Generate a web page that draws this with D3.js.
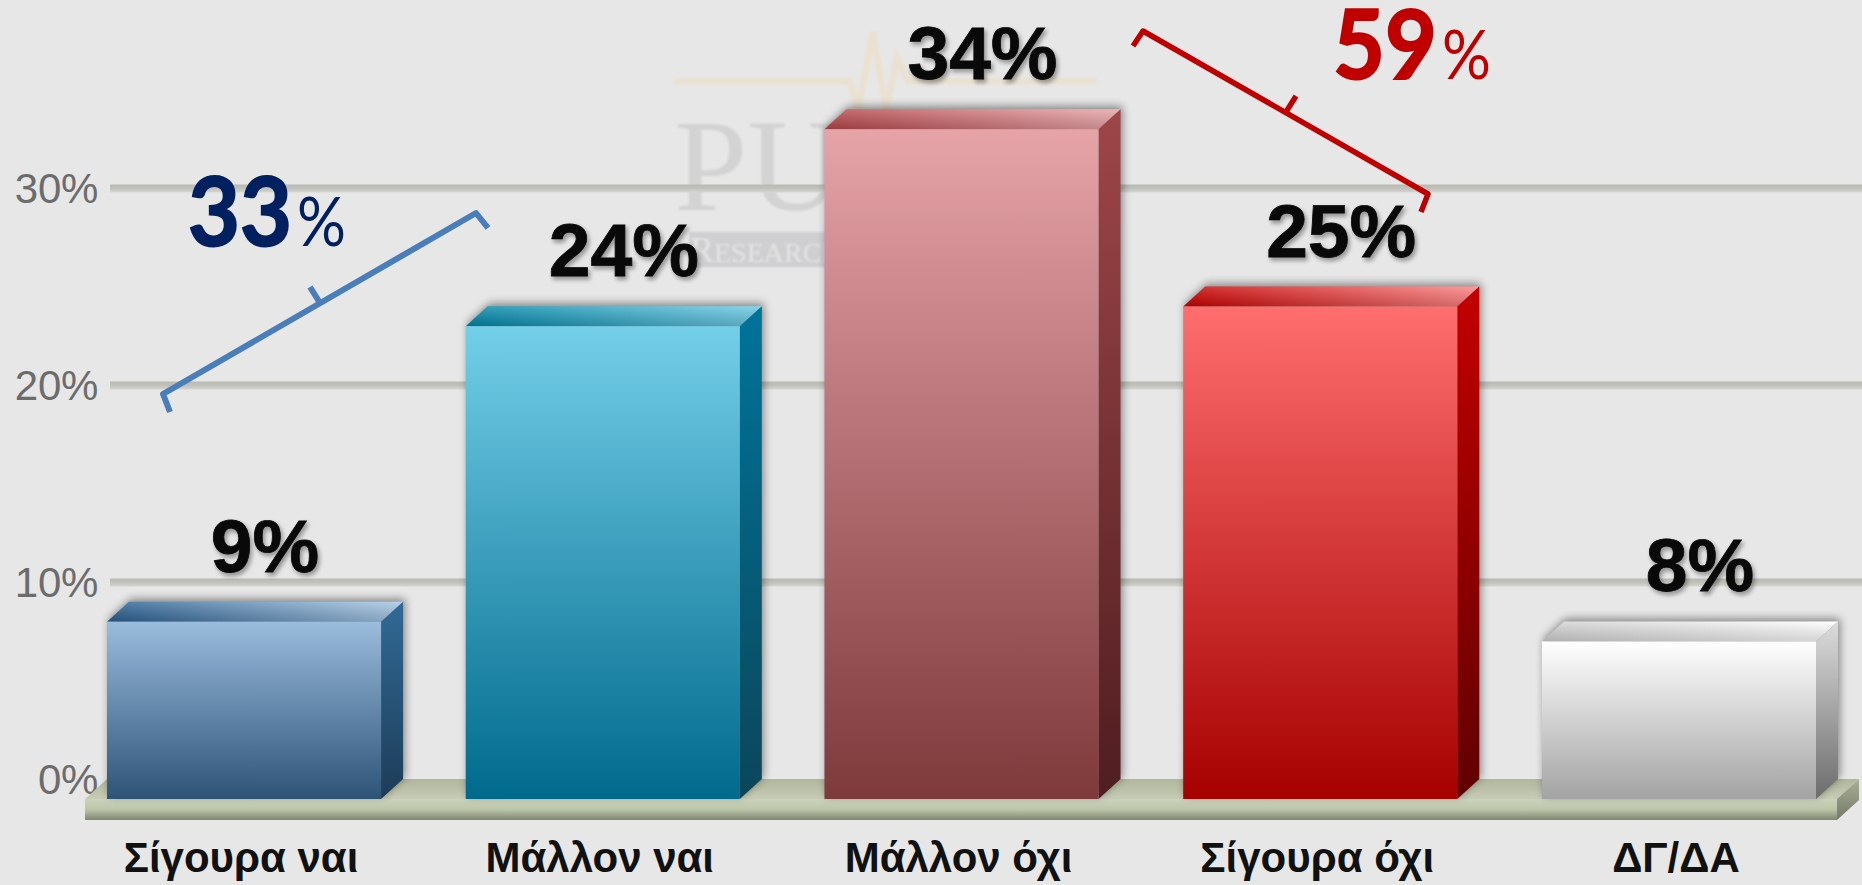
<!DOCTYPE html>
<html><head><meta charset="utf-8">
<script src="https://cdn.jsdelivr.net/npm/d3@7/dist/d3.min.js"></script>
<style>html,body{margin:0;padding:0;background:#e7e7e7;overflow:hidden}svg{display:block}</style>
</head><body><svg id="c" width="1862" height="885"></svg>
<script>
const categories = ["Σίγουρα ναι","Μάλλον ναι","Μάλλον όχι","Σίγουρα όχι","ΔΓ/ΔΑ"];
const values = [9,24,34,25,8];
const yTicks = [0,10,20,30];
const groupTotals = [33,59];

const frontColors = [["#9abcdd","#2d5377"],["#74cfe9","#006a8d"],["#e6a3a8","#7e393b"],["#ff6e6e","#a60000"],["#ffffff","#a3a3a3"]];
const sideColors  = [["#326a96","#1d3c58"],["#00749a","#0b4659"],["#9e4649","#4f1d20"],["#c40000","#600000"],["#dcdcdc","#6c6c6c"]];
const topColors   = [["#2a6091","#a9c8e6"],["#0087a9","#70cce6"],["#b8464b","#eaa7aa"],["#cc0000","#ff8585"],["#d2d2d2","#ffffff"]];

const W = 1862, H = 885;
const depthX = 22, depthY = 20;
const svg = d3.select("#c");
const defs = svg.append("defs");
const x = d3.scaleBand().domain(categories).range([107,1816]).paddingInner(0.236).paddingOuter(0);
const y = d3.scaleLinear().domain([0,30]).range([779,188]);
const fy = v => y(v) + depthY;
const bw = x.bandwidth();

function grad(id, cols, horizontal){
  const g = defs.append("linearGradient").attr("id",id)
    .attr("x1",0).attr("y1",0).attr("x2",horizontal?1:0).attr("y2",horizontal?0:1);
  cols.forEach((c,i)=>g.append("stop").attr("offset",i/(cols.length-1)).attr("stop-color",c));
}
categories.forEach((c,i)=>{
  grad("f"+i,frontColors[i],false); grad("s"+i,sideColors[i],false); grad("t"+i,topColors[i],true);
});
grad("floorFront",["#ccd3bd","#bcc4aa","#7f8672"],false);
grad("floorSide",["#a9b094","#75796a"],false);
grad("floorTop",["#b1b79c","#c6ccb6"],false);
grad("gridG",["#b9b9b2","#c2c2bc","#d6d6d1"],false);
grad("topShade",["rgba(255,255,255,.18)","rgba(0,0,0,.16)"],false);
defs.append("filter").attr("id","blur").attr("x","-10%").attr("y","-10%").attr("width","120%").attr("height","120%")
  .append("feGaussianBlur").attr("stdDeviation",4);
defs.append("filter").attr("id","soft").append("feGaussianBlur").attr("stdDeviation",0.9);

svg.append("rect").attr("width",W).attr("height",H).attr("fill","#e7e7e7");

/* watermark */
const wm = svg.append("g").attr("filter","url(#soft)");
wm.append("path").attr("fill","none").attr("stroke","#ebe1d2").attr("stroke-width",7)
  .attr("d","M674 81H850L858 110L873 32L886 110L897 58L908 81H1097");
wm.append("text").attr("x",674).attr("y",210).attr("font-family","'Liberation Serif',serif")
  .attr("font-size",132).attr("fill","#d3d3d3").text("PULSE");
wm.append("rect").attr("x",689).attr("y",232).attr("width",380).attr("height",35).attr("fill","#cfcfd1");
const rs = wm.append("text").attr("x",690).attr("y",262).attr("font-family","'Liberation Serif',serif").attr("fill","#e4e4e4");
rs.append("tspan").attr("font-size",36).text("R");
rs.append("tspan").attr("font-size",28).text("ESEARCH");

/* grid */
svg.append("g").selectAll("rect").data(yTicks.filter(t=>t>0)).join("rect")
  .attr("x",110).attr("width",W-110).attr("y",d=>y(d)-3.5).attr("height",8).attr("fill","url(#gridG)");

/* y axis */
const yAxis = svg.append("g").attr("transform","translate(98,0)")
  .call(d3.axisLeft(y).tickValues(yTicks).tickSize(0).tickPadding(0).tickFormat(d=>d+"%"));
yAxis.select(".domain").remove();
yAxis.selectAll("text").attr("font-family","'Liberation Sans',Arial,sans-serif").attr("font-size",42)
  .attr("fill","#6c6c6c").attr("dy",null).attr("y",14).attr("letter-spacing","-0.3");

/* floor */
const fl = 85, fr = 1837, floorBack = y(0), floorFront = y(0)+depthY, floorBottom = floorFront+21;
svg.append("path").attr("fill","url(#floorTop)")
  .attr("d",`M${fl} ${floorFront}L${fl+depthX} ${floorBack}H${fr+depthX}L${fr} ${floorFront}Z`);
svg.append("rect").attr("x",fl).attr("y",floorFront).attr("width",fr-fl).attr("height",floorBottom-floorFront).attr("fill","url(#floorFront)");
svg.append("path").attr("fill","url(#floorSide)")
  .attr("d",`M${fr} ${floorFront}L${fr+depthX} ${floorBack}V${floorBack+21}L${fr} ${floorBottom}Z`);

/* bars */
const bars = svg.append("g").selectAll("g").data(values).join("g");
const silhouette = (d,i)=>{const a=x(categories[i]),t=fy(d);
  return `M${a} ${t}L${a+depthX} ${t-depthY}H${a+bw+depthX}V${floorBack}L${a+bw} ${floorFront}H${a}Z`;};
bars.append("path").attr("fill","#000").attr("opacity",0.42).attr("filter","url(#blur)")
  .attr("transform","translate(2,-3)").attr("d",silhouette);
const topFace = (d,i)=>{const a=x(categories[i]),t=fy(d);
  return `M${a} ${t}L${a+depthX} ${t-depthY}H${a+bw+depthX}L${a+bw} ${t}Z`;};
bars.append("path").attr("fill",(d,i)=>`url(#t${i})`).attr("d",topFace);
bars.append("path").attr("fill","url(#topShade)").attr("d",topFace);
bars.append("path").attr("fill",(d,i)=>`url(#s${i})`)
  .attr("d",(d,i)=>{const a=x(categories[i]),t=fy(d);
    return `M${a+bw} ${t}L${a+bw+depthX} ${t-depthY}V${floorBack}L${a+bw} ${floorFront}Z`;});
bars.append("rect").attr("fill",(d,i)=>`url(#f${i})`)
  .attr("x",(d,i)=>x(categories[i])).attr("y",d=>fy(d)).attr("width",bw).attr("height",d=>floorFront-fy(d));

/* value labels */
svg.append("g").selectAll("text").data(values).join("text")
  .attr("x",(d,i)=>x(categories[i])+bw/2+21).attr("y",d=>fy(d)-50)
  .attr("text-anchor","middle").attr("font-family","'Liberation Sans',Arial,sans-serif")
  .attr("font-weight","bold").attr("font-size",75).attr("fill","#0a0a0a")
  .attr("stroke","#0a0a0a").attr("stroke-width",0.8)
  .style("text-shadow","2px 3px 4px rgba(0,0,0,.35)").text(d=>d+"%");

/* category axis */
const xAxis = svg.append("g").attr("transform","translate(-3,872)")
  .call(d3.axisBottom(x).tickSize(0).tickPadding(0));
xAxis.select(".domain").remove();
xAxis.selectAll("text").attr("font-family","'Liberation Sans',Arial,sans-serif").attr("font-weight","bold")
  .attr("font-size",42).attr("fill","#111").attr("dy",null).attr("y",0);

/* brackets */
const line = d3.line();
const bracket = (pts,col,w)=>svg.append("path").attr("d",line(pts)).attr("fill","none").attr("stroke",col)
  .attr("stroke-width",w).attr("stroke-linejoin","round");
bracket([[170,412],[163,394],[476,213],[488,228]],"#4a7ebb",6);
bracket([[320,303],[310,287]],"#4a7ebb",6);
bracket([[1133,46],[1143,31],[1428,194],[1421,212]],"#c00000",5.5);
bracket([[1286,112],[1296,96]],"#c00000",5.5);

/* totals */
function total(v,xNum,xPct,base,col){
  svg.append("text").attr("x",xNum).attr("y",base).attr("font-family","Lato,sans-serif").attr("font-weight","bold")
    .attr("font-size",96).attr("fill",col).attr("stroke",col).attr("stroke-width",2)
    .attr("textLength",104).attr("lengthAdjust","spacingAndGlyphs").text(v);
  svg.append("text").attr("x",xPct).attr("y",base).attr("font-family","Lato,sans-serif")
    .attr("font-size",68).attr("fill",col).attr("textLength",49).attr("lengthAdjust","spacingAndGlyphs").text("%");
}
total(groupTotals[0],188,297,246,"#002060");
total(groupTotals[1],1333,1442,79,"#c00000");
</script></body></html>
